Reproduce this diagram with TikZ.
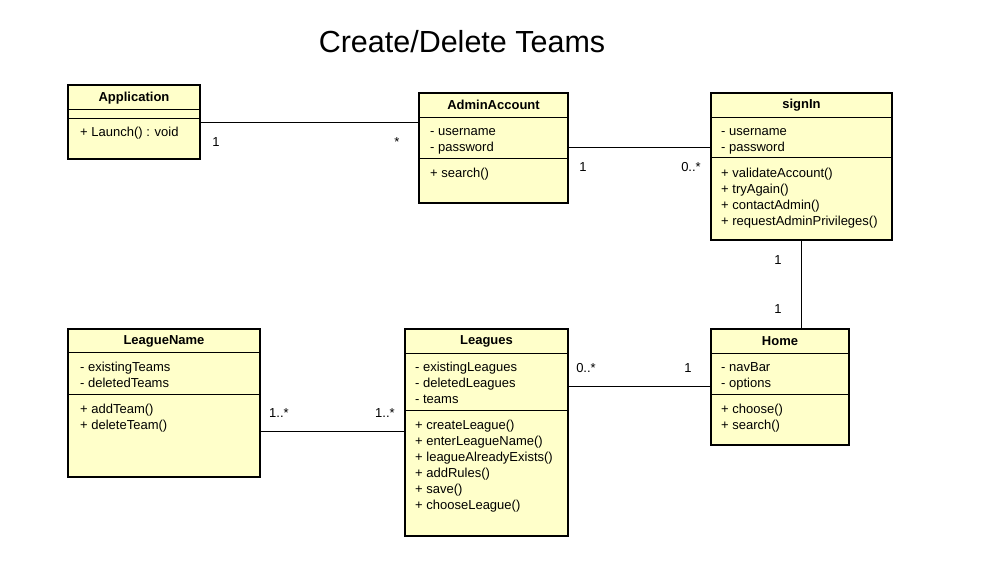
\documentclass[tikz,border=0pt]{standalone}
\usepackage{fontspec}
\setmainfont{Liberation Sans}
\usetikzlibrary{positioning}
\definecolor{classfill}{HTML}{FFFFCA}
\tikzset{
  classbox/.style={draw, line width=2pt, fill=classfill, anchor=north west, inner sep=0pt},
  classname/.style={font=\fontsize{13}{16}\selectfont\bfseries, inner sep=0pt},
  member/.style={font=\fontsize{13}{16}\selectfont, anchor=base west, inner sep=0pt},
  mult/.style={font=\fontsize{13}{16}\selectfont, inner sep=0pt},
  sep/.style={line width=1pt},
  assoc/.style={line width=1pt}
}
\begin{document}
\begin{tikzpicture}[x=1pt,y=-1pt]
  \useasboundingbox[fill=white] (0,0) rectangle (985,587);
  \node[font=\fontsize{30.5}{36}\selectfont] (title) at (462,42) {Create/Delete Teams};

  % classes
  \node[classbox, minimum width=132pt, minimum height=74pt] (app) at (67,84) {};
  \node[classbox, minimum width=149pt, minimum height=110pt] (admin) at (418,92) {};
  \node[classbox, minimum width=181pt, minimum height=147pt] (signin) at (710,92) {};
  \node[classbox, minimum width=192pt, minimum height=148pt] (leaguename) at (67,328) {};
  \node[classbox, minimum width=163pt, minimum height=207pt] (leagues) at (404,328) {};
  \node[classbox, minimum width=138pt, minimum height=116pt] (home) at (710,328) {};

  % compartments
  \foreach \c/\y in {app/109, app/118, admin/117, admin/158, signin/117, signin/157,
                     leaguename/352, leaguename/394, leagues/353, leagues/410,
                     home/353, home/394}
    \draw[sep] (\c.west |- 0,\y) -- (\c.east |- 0,\y);

  % names
  \node[classname] (app-t) at (app.north |- 0,98) {Application};
  \node[classname] (admin-t) at (admin.north |- 0,105) {AdminAccount};
  \node[classname] (signin-t) at (signin.north |- 0,105) {signIn};
  \node[classname] (leaguename-t) at (leaguename.north |- 0,341) {LeagueName};
  \node[classname] (leagues-t) at (leagues.north |- 0,341) {Leagues};
  \node[classname] (home-t) at (home.north |- 0,341) {Home};

  % members
  \foreach \t [count=\i] in {+ Launch() : void}
    \node[member] (app-m\i) at (80,120+16*\i) {\t};
  \foreach \t [count=\i] in {- username, - password}
    \node[member] (admin-a\i) at (430,119+16*\i) {\t};
  \foreach \t [count=\i] in {+ search()}
    \node[member] (admin-m\i) at (430,161+16*\i) {\t};
  \foreach \t [count=\i] in {- username, - password}
    \node[member] (signin-a\i) at (721,119+16*\i) {\t};
  \foreach \t [count=\i] in {+ validateAccount(), + tryAgain(), + contactAdmin(), + requestAdminPrivileges()}
    \node[member] (signin-m\i) at (721,161+16*\i) {\t};
  \foreach \t [count=\i] in {- existingTeams, - deletedTeams}
    \node[member] (leaguename-a\i) at (80,355+16*\i) {\t};
  \foreach \t [count=\i] in {+ addTeam(), + deleteTeam()}
    \node[member] (leaguename-m\i) at (80,397+16*\i) {\t};
  \foreach \t [count=\i] in {- existingLeagues, - deletedLeagues, - teams}
    \node[member] (leagues-a\i) at (415,355+16*\i) {\t};
  \foreach \t [count=\i] in {+ createLeague(), + enterLeagueName(), + leagueAlreadyExists(), + addRules(), + save(), + chooseLeague()}
    \node[member] (leagues-m\i) at (415,413+16*\i) {\t};
  \foreach \t [count=\i] in {- navBar, - options}
    \node[member] (home-a\i) at (721,355+16*\i) {\t};
  \foreach \t [count=\i] in {+ choose(), + search()}
    \node[member] (home-m\i) at (721,397+16*\i) {\t};

  % associations
  \draw[assoc] (app.east |- 0,122) -- (admin.west |- 0,122);
  \draw[assoc] (admin.east |- 0,147) -- (signin.west |- 0,147);
  \draw[assoc] (signin.south -| 801,0) -- (home.north -| 801,0);
  \draw[assoc] (leagues.east |- 0,386) -- (home.west |- 0,386);
  \draw[assoc] (leaguename.east |- 0,431) -- (leagues.west |- 0,431);

  % multiplicities
  \node[mult] (m1) at (216,142) {1};
  \node[mult] (m2) at (397,142) {*};
  \node[mult] (m3) at (583,167) {1};
  \node[mult] (m4) at (691,167) {0..*};
  \node[mult] (m5) at (778,260) {1};
  \node[mult] (m6) at (778,309) {1};
  \node[mult] (m7) at (586,368) {0..*};
  \node[mult] (m8) at (688,368) {1};
  \node[mult] (m9) at (279,413) {1..*};
  \node[mult] (m10) at (385,413) {1..*};
\end{tikzpicture}
\end{document}
